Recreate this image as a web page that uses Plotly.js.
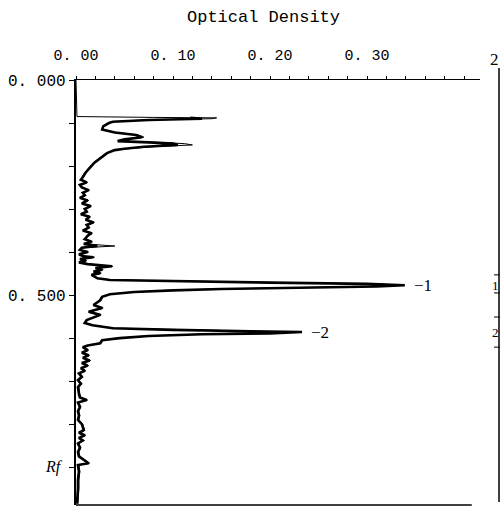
<!DOCTYPE html>
<html>
<head>
<meta charset="utf-8">
<script src="https://cdn.plot.ly/plotly-3.0.1.min.js"></script>
<style>
html,body{margin:0;padding:0;background:#fff;}
#chart{width:502px;height:507px;}
</style>
</head>
<body>
<div id="chart"></div>
<script>
// Rf positions along the scan
const rf = [0.000,0.085,0.087,0.088,0.090,0.093,0.097,0.100,0.108,0.115,0.122,0.128,0.133,0.138,0.142,0.145,0.148,0.151,0.155,0.160,0.163,0.170,0.181,0.192,0.205,0.215,0.226,
0.232,0.238,0.244,0.250,0.256,0.262,0.268,0.274,0.280,0.287,0.293,0.300,0.306,0.312,0.318,0.325,0.331,0.337,0.343,0.350,0.356,0.362,
0.370,0.376,0.381,0.386,0.390,0.395,0.400,0.405,0.410,0.412,0.416,0.420,0.424,0.428,0.433,0.437,0.441,0.445,0.449,0.453,0.457,0.461,
0.465,0.468,0.471,0.474,0.477,0.480,0.483,0.486,0.489,0.493,0.498,0.504,
0.512,0.523,0.530,0.539,0.546,0.558,0.565,0.570,0.577,0.581,0.584,0.586,0.589,0.591,0.595,0.600,0.605,0.612,0.617,0.621,
0.628,0.634,0.640,0.646,0.652,0.658,0.664,0.670,0.676,0.682,0.690,0.698,0.706,0.714,0.730,0.738,0.744,0.750,0.760,0.770,0.780,0.790,0.800,
0.814,0.820,0.826,0.832,0.838,0.845,0.855,0.865,0.875,0.891,0.895,0.910,0.930,0.950,0.970,0.985];

// Optical density, thick trace (null = trace not yet started)
const odThick = [null,null,null,0.118,0.130,0.075,0.038,0.034,0.028,0.027,0.040,0.062,0.068,0.050,0.043,0.075,0.100,0.105,0.070,0.050,0.040,0.032,0.025,0.019,0.014,0.010,0.007,
0.005,0.011,0.004,0.006,0.013,0.007,0.009,0.004,0.012,0.006,0.015,0.009,0.011,0.005,0.014,0.010,0.018,0.011,0.013,0.007,0.016,0.012,
0.009,0.016,0.008,0.022,0.006,0.004,0.012,0.003,0.008,0.018,0.004,0.010,0.003,0.012,0.037,0.020,0.027,0.018,0.025,0.016,0.019,0.022,
0.035,0.100,0.200,0.300,0.339,0.310,0.220,0.150,0.100,0.060,0.035,0.027,
0.025,0.018,0.027,0.013,0.025,0.011,0.009,0.017,0.038,0.100,0.180,0.233,0.200,0.130,0.075,0.045,0.027,0.025,0.012,0.007,
0.012,0.006,0.013,0.007,0.014,0.006,0.012,0.005,0.009,0.003,0.006,0.002,0.005,0.002,0.003,0.004,0.011,0.002,0.004,0.002,0.003,0.002,0.006,
0.008,0.003,0.009,0.003,0.007,0.002,0.004,0.002,0.003,0.013,0.002,0.003,0.002,0.002,0.001,0.001];

// Optical density, thin trace
const odThin = [0.000,0.001,0.080,0.145,0.140,0.070,0.036,0.034,0.029,0.027,0.042,0.064,0.070,0.052,0.043,0.085,0.112,0.120,0.080,0.052,0.038,0.031,0.024,0.018,0.013,0.009,0.006,
0.006,0.012,0.005,0.007,0.014,0.008,0.010,0.005,0.013,0.007,0.016,0.010,0.012,0.006,0.015,0.011,0.019,0.012,0.014,0.008,0.017,0.013,
0.010,0.017,0.009,0.040,0.007,0.005,0.013,0.004,0.009,0.019,0.005,0.011,0.004,0.013,0.038,0.021,0.028,0.019,0.026,0.017,0.020,0.023,
0.038,0.110,0.215,0.310,0.335,0.300,0.210,0.140,0.095,0.058,0.034,0.026,
0.024,0.019,0.028,0.014,0.026,0.012,0.010,0.018,0.040,0.110,0.190,0.228,0.195,0.125,0.072,0.044,0.026,0.024,0.013,0.008,
0.013,0.007,0.014,0.008,0.015,0.007,0.013,0.006,0.010,0.004,0.007,0.003,0.006,0.003,0.004,0.005,0.012,0.003,0.005,0.003,0.004,0.003,0.007,
0.009,0.004,0.010,0.004,0.008,0.003,0.005,0.003,0.004,0.014,0.003,0.004,0.003,0.003,0.002,0.002];

// Axis tick labels
const xTickVals = [0, 0.1, 0.2, 0.3];
const xTickText = ['0. 00', '0. 10', '0. 20', '0. 30'];
const yTickVals = [0, 0.1, 0.2, 0.3, 0.4, 0.5, 0.6, 0.7, 0.8, 0.9];
const yTickText = ['0. 000', '', '', '', '', '0. 500', '', '', '', ''];

// Band markers
const peakLabels = ['\u22121', '\u22122'];
const peakRf = [0.477, 0.586];
const peakOD = [0.339, 0.233];
const bandNames = ['1', '2'];
const bandEdges = [0.453, 0.495, 0.551, 0.621];

const W = 502, H = 507, L = 76, R = 22, T = 80, B = 2;
const pw = W - L - R, ph = H - T - B;
const px = v => (v - L) / pw;       // pixel x -> paper
const py = v => (H - B - v) / ph;   // pixel y -> paper

const traces = [
  {x: odThin, y: rf, mode: 'lines', line: {color: '#000', width: 1}, hoverinfo: 'skip'},
  {x: odThick, y: rf, mode: 'lines', line: {color: '#000', width: 2.6}, connectgaps: false, hoverinfo: 'skip'}
];

const shapes = [
  {type: 'line', xref: 'x', yref: 'paper', x0: 0, x1: 0.408, y0: 0, y1: 0, line: {color: '#000', width: 1.5}},
  {type: 'line', xref: 'paper', yref: 'paper', x0: px(499), x1: px(499), y0: py(502), y1: py(68), line: {color: '#000', width: 1.5}}
];
bandEdges.forEach(e => shapes.push({type: 'line', xref: 'paper', yref: 'y', x0: px(494), x1: px(500), y0: e, y1: e, line: {color: '#000', width: 1}}));

const annotations = [
  {text: 'Optical Density', xref: 'paper', yref: 'paper', x: px(263), y: py(18), showarrow: false, xanchor: 'center', yanchor: 'middle',
   font: {family: 'Liberation Mono, monospace', size: 17, color: '#000'}},
  {text: '<i>Rf</i>', xref: 'paper', yref: 'y', x: px(54), y: 0.9, showarrow: false, xanchor: 'center', yanchor: 'middle',
   font: {family: 'Liberation Serif, serif', size: 16, color: '#000'}},
  {text: '2', xref: 'paper', yref: 'paper', x: px(494), y: py(59), showarrow: false, xanchor: 'center', yanchor: 'middle',
   font: {family: 'Liberation Serif, serif', size: 17, color: '#000'}}
];
peakLabels.forEach((t, i) => annotations.push({text: t, xref: 'x', yref: 'y', x: peakOD[i], y: peakRf[i], showarrow: false,
  xanchor: 'left', yanchor: 'middle', xshift: 7, font: {family: 'Liberation Serif, serif', size: 17, color: '#000'}}));
bandNames.forEach((t, i) => annotations.push({text: t, xref: 'paper', yref: 'y', x: px(495), y: peakRf[i], showarrow: false,
  xanchor: 'center', yanchor: 'middle', font: {family: 'Liberation Serif, serif', size: 13, color: '#000'}}));

const layout = {
  width: W, height: H,
  margin: {l: L, r: R, t: T, b: B, pad: 0},
  paper_bgcolor: '#fff', plot_bgcolor: '#fff',
  showlegend: false,
  xaxis: {
    side: 'top', range: [0, 0.4165], showgrid: false, zeroline: false,
    showline: true, linecolor: '#000', linewidth: 1.5,
    tickmode: 'array', tickvals: xTickVals, ticktext: xTickText,
    ticks: 'outside', ticklen: 3, tickcolor: '#000', tickwidth: 1,
    ticklabelstandoff: 10,
    minor: {tickmode: 'linear', tick0: 0, dtick: 0.02, ticks: 'outside', ticklen: 3, tickcolor: '#000', tickwidth: 1, showgrid: false},
    tickfont: {family: 'Liberation Mono, monospace', size: 15, color: '#000'},
    fixedrange: true
  },
  yaxis: {
    range: [0.988, 0], showgrid: false, zeroline: false,
    showline: true, linecolor: '#000', linewidth: 2.2,
    tickmode: 'array', tickvals: yTickVals, ticktext: yTickText,
    ticks: 'outside', ticklen: 5, tickcolor: '#000', tickwidth: 1,
    tickfont: {family: 'Liberation Mono, monospace', size: 16, color: '#000'},
    fixedrange: true
  },
  shapes: shapes,
  annotations: annotations
};

Plotly.newPlot('chart', traces, layout, {displayModeBar: false, staticPlot: true});
</script>
</body>
</html>
